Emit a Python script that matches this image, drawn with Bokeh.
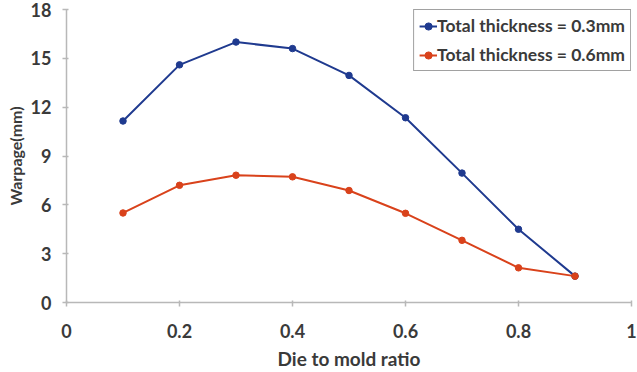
from bokeh.plotting import figure
from bokeh.models import Range1d, FixedTicker, Legend, LegendItem
from bokeh.embed import file_html
from bokeh.resources import INLINE

ratio = [0.1, 0.2, 0.3, 0.4, 0.5, 0.6, 0.7, 0.8, 0.9]
warp_03 = [11.15, 14.6, 16.0, 15.6, 13.95, 11.35, 7.95, 4.5, 1.62]
warp_06 = [5.5, 7.2, 7.82, 7.72, 6.88, 5.48, 3.82, 2.13, 1.62]
x_ticks = [0, 0.2, 0.4, 0.6, 0.8, 1.0]
y_ticks = [0, 3, 6, 9, 12, 15, 18]
names = ["Total thickness = 0.3mm", "Total thickness = 0.6mm"]

FONT = "Lato"
TXT = "#3a3a3a"

p = figure(width=637, height=372, output_backend="svg", toolbar_location=None,
           x_range=Range1d(0, 1), y_range=Range1d(0, 18),
           min_border_left=66, min_border_right=6, min_border_top=9, min_border_bottom=69)
p.outline_line_color = None
p.xgrid.visible = False
p.ygrid.visible = False

blue = "#1f3a8f"
orange = "#d9421b"

r1 = p.line(ratio, warp_03, line_color=blue, line_width=2)
c1 = p.scatter(ratio, warp_03, size=6.5, fill_color=blue, line_color=blue)
r2 = p.line(ratio, warp_06, line_color=orange, line_width=2)
c2 = p.scatter(ratio, warp_06, size=6.5, fill_color=orange, line_color=orange)

for ax in (p.xaxis, p.yaxis):
    ax.axis_line_color = "#b8b8b8"
    ax.axis_line_width = 1.5
    ax.major_tick_line_color = "#b8b8b8"
    ax.major_tick_line_width = 1.5
    ax.minor_tick_line_color = None
    ax.major_tick_in = 2
    ax.major_tick_out = 4
    ax.major_label_text_font = FONT
    ax.major_label_text_font_style = "bold"
    ax.major_label_text_font_size = "18px"
    ax.major_label_text_color = TXT
    ax.axis_label_text_font = FONT
    ax.axis_label_text_font_style = "bold"
    ax.axis_label_text_color = TXT

p.xaxis.ticker = FixedTicker(ticks=x_ticks)
p.yaxis.ticker = FixedTicker(ticks=y_ticks)
p.xaxis.major_label_overrides = {0: "0", 0.2: "0.2", 0.4: "0.4", 0.6: "0.6", 0.8: "0.8", 1.0: "1"}
p.xaxis.major_label_standoff = 17
p.yaxis.major_label_standoff = 11
p.xaxis.axis_label = "Die to mold ratio"
p.xaxis.axis_label_text_font_size = "19px"
p.xaxis.axis_label_standoff = 6
p.yaxis.axis_label = "Warpage(mm)"
p.yaxis.axis_label_text_font_size = "16px"
p.yaxis.axis_label_standoff = 3

legend = Legend(items=[LegendItem(label=names[0], renderers=[r1, c1]),
                       LegendItem(label=names[1], renderers=[r2, c2])],
                location="top_right")
legend.margin = 0
legend.padding = 5
legend.spacing = 8
legend.border_line_color = "#444444"
legend.border_line_width = 1.5
legend.label_text_font = FONT
legend.label_text_font_style = "bold"
legend.label_text_font_size = "17.5px"
legend.label_text_color = TXT
legend.glyph_width = 18
legend.label_standoff = 0
legend.background_fill_alpha = 1
p.add_layout(legend)

open("out.html", "w").write(file_html(p, INLINE))
